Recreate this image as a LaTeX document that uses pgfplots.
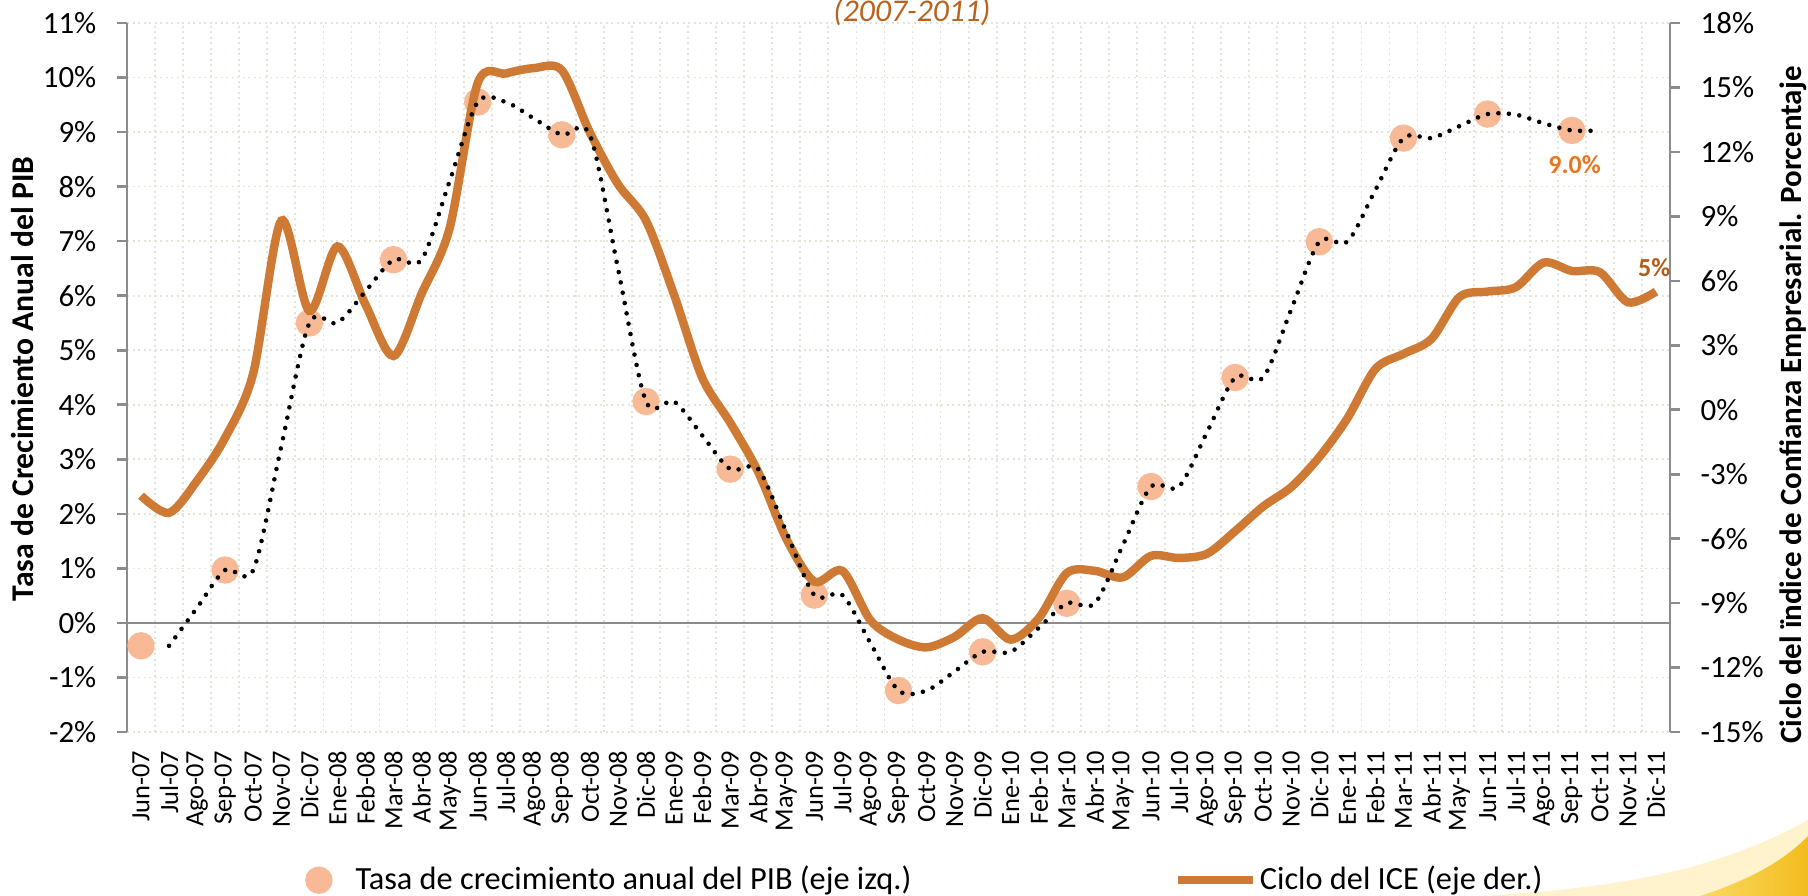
\documentclass[border=0pt]{standalone}
\usepackage{pgfplots}
\usepackage{pgfplotstable}
\pgfplotsset{compat=1.18}
\usepackage{fontspec}
\setmainfont{Carlito}
\definecolor{icec}{RGB}{207,122,52}
\definecolor{pibc}{RGB}{248,186,150}
\definecolor{gridc}{RGB}{230,228,215}
\definecolor{axc}{RGB}{140,140,140}
\definecolor{lab9}{RGB}{232,118,30}
\definecolor{lab5}{RGB}{178,92,26}
\definecolor{titc}{RGB}{185,98,30}
\definecolor{yel1}{RGB}{254,243,205}
\definecolor{yel2}{RGB}{250,218,100}
\definecolor{yel3}{RGB}{242,188,30}

\pgfplotsset{
  icelegend/.style={legend image code/.code={\draw[##1] (0mm,0mm) -- (7.5mm,0mm);}},
  pibleg/.style={legend image code/.code={\path (0mm,0mm) (6.3mm,0mm); \draw[##1] plot coordinates {(3mm,0mm)};}},
  myaxis/.style={
    at={(12.7mm,-73.2mm)}, anchor=south west,
    scale only axis, width=154.3mm, height=70.9mm,
    xmin=-0.5, xmax=54.5,
  }
}

\pgfplotstableread{
i pib
0 -0.42
3 0.97
6 5.50
9 6.66
12 9.55
15 8.95
18 4.06
21 2.82
24 0.51
27 -1.24
30 -0.53
33 0.36
36 2.50
39 4.50
42 6.99
45 8.89
48 9.33
51 9.03
}\pibtable

\pgfplotstableread{
i dot
1 -0.42
2 0.28
3 0.97
4 0.97
5 3.24
6 5.50
7 5.50
8 6.08
9 6.66
10 6.66
11 8.10
12 9.55
13 9.55
14 9.25
15 8.95
16 8.95
17 6.50
18 4.06
19 4.06
20 3.44
21 2.82
22 2.82
23 1.67
24 0.51
25 0.51
26 -0.37
27 -1.24
28 -1.24
29 -0.89
30 -0.53
31 -0.53
32 -0.09
33 0.36
34 0.36
35 1.43
36 2.50
37 2.50
38 3.50
39 4.50
40 4.50
41 5.75
42 6.99
43 6.99
44 7.94
45 8.89
46 8.89
47 9.11
48 9.33
49 9.32
50 9.16
51 9.03
52 9.03
}\dottable

\pgfplotstableread{
i ice
0 -4.0
1 -4.8
2 -3.3
3 -1.3
4 1.7
5 8.8
6 4.6
7 7.6
8 4.9
9 2.5
10 5.4
11 8.45
12 15.2
13 15.65
14 15.9
15 15.8
16 12.9
17 10.5
18 8.8
19 5.35
20 1.5
21 -0.6
22 -2.9
23 -6.0
24 -8.0
25 -7.5
26 -9.8
27 -10.7
28 -11.06
29 -10.57
30 -9.7
31 -10.7
32 -9.7
33 -7.6
34 -7.5
35 -7.8
36 -6.8
37 -6.9
38 -6.7
39 -5.65
40 -4.5
41 -3.6
42 -2.2
43 -0.4
44 1.9
45 2.6
46 3.3
47 5.25
48 5.5
49 5.7
50 6.85
51 6.46
52 6.4
53 5.0
54 5.5
}\icetable

\begin{document}
\begin{tikzpicture}
\path[use as bounding box] (0,0) rectangle (180.8mm,-89.6mm);
% decorative swoosh (slide background)
\fill[yel1] (148mm,-89.6mm) .. controls (160mm,-88.9mm) and (171mm,-87.5mm) .. (180.8mm,-82mm) -- (180.8mm,-89.6mm) -- cycle;
\shade[left color=yel2, right color=yel3] (170mm,-89.6mm) .. controls (174mm,-88.3mm) and (178mm,-86.5mm) .. (180.8mm,-83.6mm) -- (180.8mm,-89.6mm) -- cycle;

% Axis 1: left scale, grid, circles
\begin{axis}[
  myaxis,
  ymin=-2, ymax=11,
  axis x line*=bottom, axis y line*=left,
  x axis line style={draw=none},
  y axis line style={draw=axc, line width=0.75pt, -},
  xtick={0,...,54},
  xticklabels={Jun-07,Jul-07,Ago-07,Sep-07,Oct-07,Nov-07,Dic-07,
    Ene-08,Feb-08,Mar-08,Abr-08,May-08,Jun-08,Jul-08,Ago-08,Sep-08,Oct-08,Nov-08,Dic-08,
    Ene-09,Feb-09,Mar-09,Abr-09,May-09,Jun-09,Jul-09,Ago-09,Sep-09,Oct-09,Nov-09,Dic-09,
    Ene-10,Feb-10,Mar-10,Abr-10,May-10,Jun-10,Jul-10,Ago-10,Sep-10,Oct-10,Nov-10,Dic-10,
    Ene-11,Feb-11,Mar-11,Abr-11,May-11,Jun-11,Jul-11,Ago-11,Sep-11,Oct-11,Nov-11,Dic-11},
  xtick style={draw=none},
  minor xtick={-0.5,0.5,...,54.5},
  minor tick length=0pt,
  xminorgrids=true, ymajorgrids=true,
  ytick={-2,-1,...,11},
  yticklabels={-2\%,-1\%,0\%,1\%,2\%,3\%,4\%,5\%,6\%,7\%,8\%,9\%,10\%,11\%},
  ytick style={draw=axc, line width=0.75pt},
  tick align=outside, major tick length=1mm,
  grid style={gridc, line width=0.5pt, dash pattern=on 0.2mm off 0.35mm},
  minor grid style={gridc, line width=0.5pt, dash pattern=on 0.2mm off 0.35mm},
  extra y ticks={0}, extra y tick labels={},
  extra y tick style={grid=major, major grid style={solid, draw=axc, line width=0.75pt}, tick style={draw=none}},
  xticklabel style={rotate=90, anchor=east, font=\fontsize{7.5}{8}\selectfont, inner sep=0pt},
  xticklabel shift=0.8mm,
  yticklabel style={anchor=east, font=\fontsize{8.8}{10}\selectfont, inner sep=0pt},
  yticklabel shift=2mm,
  ylabel={Tasa de Crecimiento Anual del PIB},
  ylabel style={at={(axis description cs:-0.0674,0.498)}, anchor=center, font=\bfseries\fontsize{9}{10}\selectfont},
]
\addplot[only marks, mark=*, mark size=1.3mm, mark options={fill=pibc, draw=pibc}] table[x=i, y=pib] {\pibtable};
\end{axis}

% Axis 2: right scale, ICE line, legend
\begin{axis}[
  myaxis,
  ymin=-15, ymax=18,
  axis y line*=right, axis x line=none,
  y axis line style={draw=axc, line width=0.75pt, -},
  ytick={-15,-12,...,18},
  yticklabels={-15\%,-12\%,-9\%,-6\%,-3\%,0\%,3\%,6\%,9\%,12\%,15\%,18\%},
  ytick style={draw=axc, line width=0.75pt},
  tick align=outside, major tick length=1mm,
  yticklabel style={anchor=west, font=\fontsize{8.8}{10}\selectfont, inner sep=0pt},
  yticklabel shift=2mm,
  ylabel={Ciclo del ïndice de Confianza Empresarial. Porcentaje},
  ylabel style={at={(axis description cs:1.0797,0.461)}, anchor=center, font=\bfseries\fontsize{8.8}{10}\selectfont},
  legend columns=2,
  legend style={at={(axis description cs:0.104,-0.209)}, anchor=west, draw=none, fill=none,
    font=\fontsize{9.2}{11}\selectfont, inner sep=0pt,
    nodes={inner sep=0.3mm},
    /tikz/every even column/.append style={column sep=25.9mm}},
]
\addlegendimage{only marks, mark=*, mark size=1.3mm, mark options={fill=pibc, draw=pibc}, pibleg}
\addlegendentry{Tasa de crecimiento anual del PIB (eje izq.)}
\addplot[icec, line width=2.4pt, smooth, tension=0.5, icelegend] table[x=i, y=ice] {\icetable};
\addlegendentry{Ciclo del ICE (eje der.)}
\end{axis}

% Axis 3: dotted line, title and value labels on top
\begin{axis}[
  myaxis,
  ymin=-2, ymax=11,
  hide axis, clip=false,
]
\addplot[black, line width=1.3pt, line cap=round, dash pattern=on 0pt off 1.05mm, smooth, tension=0.5] table[x=i, y=dot] {\dottable};
\node[anchor=base, font=\itshape\fontsize{9}{10}\selectfont, text=titc] at (rel axis cs:0.5087,1.0014) {(2007-2011)};
\node[font=\bfseries\fontsize{7.4}{8}\selectfont, text=lab9] at (axis cs:51.1,8.40) {9.0\%};
\node[font=\bfseries\fontsize{7.4}{8}\selectfont, text=lab5] at (axis cs:53.94,6.51) {5\%};
\end{axis}
\end{tikzpicture}
\end{document}
